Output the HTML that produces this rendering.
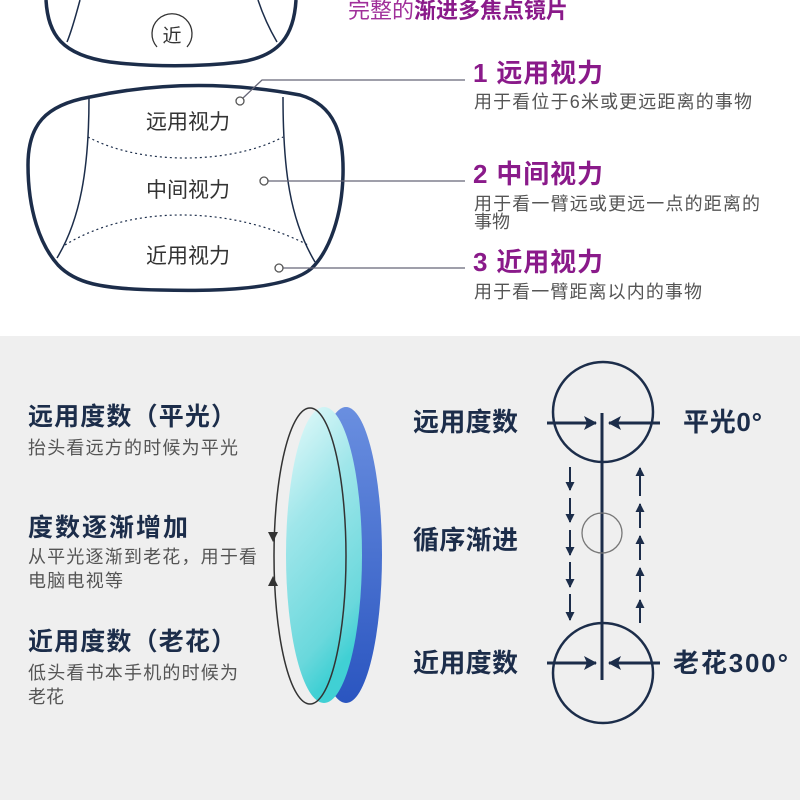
<!DOCTYPE html>
<html><head><meta charset="utf-8"><style>
html,body{margin:0;padding:0;background:#fff}
svg{display:block}
text{font-family:"Liberation Sans","Noto Sans CJK SC",sans-serif}
</style></head><body>
<svg width="800" height="800" viewBox="0 0 800 800" xmlns="http://www.w3.org/2000/svg">
<defs>
<linearGradient id="blue" x1="0" y1="0" x2="0" y2="1">
<stop offset="0" stop-color="#6a8fe0"/><stop offset="1" stop-color="#2a55c0"/></linearGradient>
<linearGradient id="cyan" x1="0" y1="0" x2="0.3" y2="1">
<stop offset="0" stop-color="#e8fbfb"/><stop offset="0.4" stop-color="#9fe6ea"/><stop offset="0.85" stop-color="#6ad8dc"/><stop offset="1" stop-color="#40d0d4"/></linearGradient>
<marker id="ah" markerWidth="10" markerHeight="10" refX="8" refY="4.5" orient="auto" markerUnits="userSpaceOnUse"><path d="M0,0 L9,4.5 L0,9 z" fill="#1c2d4a"/></marker>
<marker id="ahb" markerWidth="14" markerHeight="14" refX="12" refY="7" orient="auto" markerUnits="userSpaceOnUse"><path d="M0,0 L13,7 L0,14 L3,7 z" fill="#1c2d4a"/></marker>
</defs>
<rect x="0" y="0" width="800" height="336" fill="#fff"/>
<rect x="0" y="336" width="800" height="464" fill="#efefef"/>

<!-- top lens fragment -->
<path d="M46,0 C48,35 62,55 110,62 C150,67 200,67 240,62 C280,56 294,35 296,0" fill="none" stroke="#1c2d4a" stroke-width="3.5"/>
<path d="M80,0 C76,15 72,30 67,42" fill="none" stroke="#1c2d4a" stroke-width="1.5"/>
<path d="M258,0 C263,15 270,30 277,42" fill="none" stroke="#1c2d4a" stroke-width="1.5"/>
<path d="M157,47 A20,20 0 1 1 187,47" fill="none" stroke="#333" stroke-width="1.3"/>
<text x="172" y="42" font-size="19" fill="#333" text-anchor="middle">近</text>

<!-- main lens -->
<path d="M90,97 C160,82 230,82 300,95 C335,105 344,135 343,175 C342,215 330,250 312,268 C285,292 200,291 160,290 C100,289 75,283 58,265 C40,245 28,210 28,165 C28,125 45,105 90,97 Z" fill="none" stroke="#1c2d4a" stroke-width="3.5"/>
<path d="M89,98 C89,170 80,220 57,258" fill="none" stroke="#1c2d4a" stroke-width="1.5"/>
<path d="M283,97 C283,170 290,220 315,262" fill="none" stroke="#1c2d4a" stroke-width="1.5"/>
<path d="M88,137 C140,165 230,165 283,137" fill="none" stroke="#1c2d4a" stroke-width="1.2" stroke-dasharray="2,3"/>
<path d="M65,245 C130,205 230,205 308,245" fill="none" stroke="#1c2d4a" stroke-width="1.2" stroke-dasharray="2,3"/>
<text x="188" y="129" font-size="21" fill="#333" text-anchor="middle">远用视力</text>
<text x="188" y="197" font-size="21" fill="#333" text-anchor="middle">中间视力</text>
<text x="188" y="263" font-size="21" fill="#333" text-anchor="middle">近用视力</text>
<g fill="#fff" stroke="#555" stroke-width="1.3">
<polyline points="243,98 262,80 465,80" fill="none" stroke="#667"/>
<line x1="268" y1="181" x2="465" y2="181" stroke="#667"/>
<line x1="283" y1="268" x2="465" y2="268" stroke="#667"/>
<circle cx="240" cy="101" r="4"/><circle cx="264" cy="181" r="4"/><circle cx="279" cy="268" r="4"/>
</g>

<!-- right text top -->
<text x="348" y="18" font-size="22" fill="#a0309a">完整的<tspan font-weight="bold" fill="#8a1a8a">渐进多焦点镜片</tspan></text>
<text x="473" y="82" font-size="26" font-weight="bold" fill="#8a1a8a" textLength="130">1 远用视力</text>
<text x="474" y="108" font-size="18" fill="#555" textLength="278">用于看位于6米或更远距离的事物</text>
<text x="473" y="183" font-size="26" font-weight="bold" fill="#8a1a8a" textLength="130">2 中间视力</text>
<text x="474" y="210" font-size="18" fill="#555" textLength="286">用于看一臂远或更远一点的距离的</text>
<text x="474" y="228" font-size="18" fill="#555">事物</text>
<text x="473" y="271" font-size="26" font-weight="bold" fill="#8a1a8a" textLength="130">3 近用视力</text>
<text x="474" y="298" font-size="18" fill="#555" textLength="228">用于看一臂距离以内的事物</text>

<!-- bottom left text -->
<text x="28" y="425" font-size="25" font-weight="bold" fill="#1c2d4a" textLength="208">远用度数（平光）</text>
<text x="28" y="454" font-size="18" fill="#555" textLength="210">抬头看远方的时候为平光</text>
<text x="28" y="536" font-size="25" font-weight="bold" fill="#1c2d4a" textLength="160">度数逐渐增加</text>
<text x="28" y="563" font-size="18" fill="#555" textLength="229">从平光逐渐到老花，用于看</text>
<text x="28" y="587" font-size="18" fill="#555" textLength="95">电脑电视等</text>
<text x="28" y="650" font-size="25" font-weight="bold" fill="#1c2d4a" textLength="208">近用度数（老花）</text>
<text x="28" y="679" font-size="18" fill="#555" textLength="210">低头看书本手机的时候为</text>
<text x="28" y="703" font-size="18" fill="#555">老花</text>

<!-- lens 3d -->
<ellipse cx="346" cy="555" rx="36" ry="148" fill="url(#blue)"/>
<ellipse cx="324" cy="555" rx="38" ry="148" fill="url(#cyan)"/>
<ellipse cx="310" cy="556" rx="36" ry="148" fill="none" stroke="#333" stroke-width="1.5"/>
<path d="M268,532 L278,532 L273,542 z" fill="#333"/>
<path d="M268,586 L278,586 L273,576 z" fill="#333"/>

<!-- right diagram -->
<g stroke="#1c2d4a" fill="none">
<circle cx="603" cy="412" r="50" stroke-width="2.5"/>
<circle cx="603" cy="673" r="50" stroke-width="2.5"/>
<line x1="602" y1="413" x2="602" y2="680" stroke-width="3"/>
<line x1="547" y1="423" x2="596" y2="423" stroke-width="3" marker-end="url(#ahb)"/>
<line x1="660" y1="423" x2="609" y2="423" stroke-width="3" marker-end="url(#ahb)"/>
<line x1="547" y1="663" x2="596" y2="663" stroke-width="3" marker-end="url(#ahb)"/>
<line x1="660" y1="663" x2="609" y2="663" stroke-width="3" marker-end="url(#ahb)"/>
<circle cx="602" cy="533" r="20" stroke="#777" stroke-width="1.3"/>
<g stroke-width="2">
<line x1="570" y1="467" x2="570" y2="490" marker-end="url(#ah)"/>
<line x1="570" y1="498" x2="570" y2="522" marker-end="url(#ah)"/>
<line x1="570" y1="530" x2="570" y2="555" marker-end="url(#ah)"/>
<line x1="570" y1="562" x2="570" y2="587" marker-end="url(#ah)"/>
<line x1="570" y1="594" x2="570" y2="620" marker-end="url(#ah)"/>
<line x1="640" y1="623" x2="640" y2="600" marker-end="url(#ah)"/>
<line x1="640" y1="592" x2="640" y2="568" marker-end="url(#ah)"/>
<line x1="640" y1="560" x2="640" y2="536" marker-end="url(#ah)"/>
<line x1="640" y1="528" x2="640" y2="504" marker-end="url(#ah)"/>
<line x1="640" y1="496" x2="640" y2="468" marker-end="url(#ah)"/>
</g>
</g>
<text x="413" y="431" font-size="26" font-weight="bold" fill="#1c2d4a" textLength="105">远用度数</text>
<text x="683" y="431" font-size="26" font-weight="bold" fill="#1c2d4a" textLength="79">平光0°</text>
<text x="413" y="549" font-size="26" font-weight="bold" fill="#1c2d4a" textLength="105">循序渐进</text>
<text x="413" y="672" font-size="26" font-weight="bold" fill="#1c2d4a" textLength="105">近用度数</text>
<text x="673" y="672" font-size="26" font-weight="bold" fill="#1c2d4a" textLength="115">老花300°</text>
</svg>
</body></html>
